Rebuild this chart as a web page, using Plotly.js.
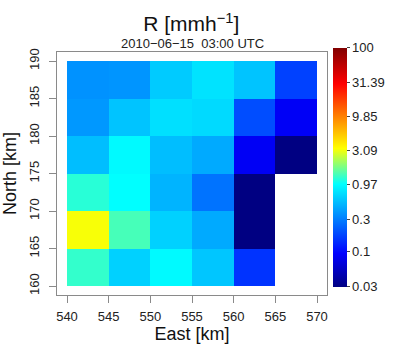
<!DOCTYPE html>
<html>
<head>
<meta charset="utf-8">
<script src="https://cdn.plot.ly/plotly-3.0.1.min.js"></script>
<style>html,body{margin:0;padding:0;background:#fff;}#chart{width:397px;height:344px;}</style>
</head>
<body>
<div id="chart"></div>
<script>
// Grid cell edges (km)
const eastEdges = [540, 545, 550, 555, 560, 565, 570];
const northEdges = [160, 165, 170, 175, 180, 185, 190];
// Rain rate R [mm/h] per row (west -> east), null = no data
const rain160 = [1.25, 0.64, 0.94, 0.58, 0.15, null];
const rain165 = [3.2, 1.37, 0.64, 0.45, 0.03, null];
const rain170 = [1.19, 0.98, 0.49, 0.27, 0.03, null];
const rain175 = [0.54, 0.94, 0.54, 0.45, 0.085, 0.03];
const rain180 = [0.38, 0.57, 0.74, 0.70, 0.19, 0.086];
const rain185 = [0.36, 0.37, 0.61, 0.76, 0.57, 0.17];
// Colorbar ticks
const cbTicks = [0.03, 0.1, 0.3, 0.97, 3.09, 9.85, 31.39, 100];
const cbTickLabels = ['0.03', '0.1', '0.3', '0.97', '3.09', '9.85', '31.39', '100'];

const rows = [rain160, rain165, rain170, rain175, rain180, rain185];
const zLog = rows.map(r => r.map(v => (v === null ? null : Math.log10(v))));

const font = 'Liberation Sans, Arial, Helvetica, sans-serif';

const trace = {
  type: 'heatmap',
  x: eastEdges,
  y: northEdges,
  z: zLog,
  zmin: Math.log10(cbTicks[0]),
  zmax: Math.log10(cbTicks[cbTicks.length - 1]),
  zsmooth: false,
  hoverongaps: false,
  colorscale: [
    [0, 'rgb(0,0,130)'],
    [0.14, 'rgb(0,0,255)'],
    [0.43, 'rgb(0,255,255)'],
    [0.58, 'rgb(255,255,0)'],
    [0.85, 'rgb(255,0,0)'],
    [1, 'rgb(128,0,0)']
  ],
  colorbar: {
    x: 1.021, xanchor: 'left',
    y: 0.525, yanchor: 'middle',
    len: 239, lenmode: 'pixels',
    thickness: 14, thicknessmode: 'pixels',
    xpad: 0, ypad: 0,
    outlinewidth: 0,
    ticks: 'outside', ticklen: 3, tickcolor: '#444',
    tickvals: cbTicks.map(v => Math.log10(v)),
    ticktext: cbTickLabels,
    tickfont: {family: font, size: 13, color: '#222'}
  }
};

const axisCommon = {
  showgrid: false, zeroline: false,
  showline: true, mirror: true, linecolor: '#8a8a8a', linewidth: 1,
  ticks: 'outside', ticklen: 7, tickcolor: '#8a8a8a',
  tickfont: {family: font, size: 13, color: '#222'}
};

const layout = {
  width: 397, height: 344,
  margin: {l: 57, r: 59, t: 52, b: 49},
  paper_bgcolor: '#fff', plot_bgcolor: '#fff',
  title: {
    text: 'R [mmh<sup>\u22121</sup>]',
    font: {family: font, size: 21, color: '#111'},
    x: 0.4975, xanchor: 'center', xref: 'paper',
    y: 0.93, yanchor: 'middle', yref: 'container'
  },
  xaxis: Object.assign({}, axisCommon, {
    range: [538.8, 571.2],
    tickvals: eastEdges,
    ticklabelstandoff: 2,
    title: {text: 'East [km]', font: {family: font, size: 18, color: '#111'}, standoff: 8}
  }),
  yaxis: Object.assign({}, axisCommon, {
    range: [158.8, 191.2],
    tickvals: northEdges,
    tickangle: -90,
    ticklabelstandoff: 5,
    title: {text: 'North [km]', font: {family: font, size: 18, color: '#111'}, standoff: 6}
  }),
  annotations: [{
    text: '2010\u221206\u221215  03:00 UTC',
    xref: 'paper', yref: 'paper', x: 0.5, y: 1.033,
    xanchor: 'center', yanchor: 'middle', showarrow: false,
    font: {family: font, size: 13, color: '#222'}
  }]
};

Plotly.newPlot('chart', [trace], layout, {displayModeBar: false, staticPlot: true});
</script>
</body>
</html>
